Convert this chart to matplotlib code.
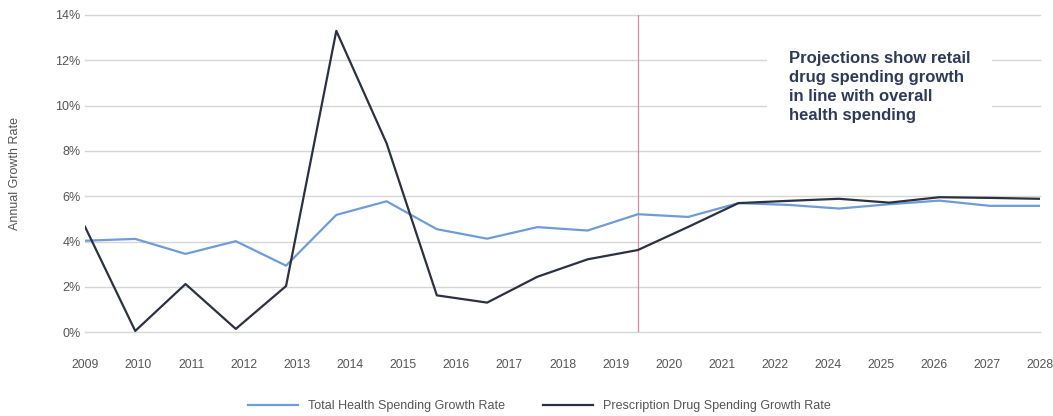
import numpy as np
import matplotlib
matplotlib.use("Agg")
import matplotlib.pyplot as plt
from matplotlib.ticker import FuncFormatter

plt.rcParams['font.family'] = ['Liberation Sans', 'DejaVu Sans']

# Data (20 annual points, 2009-2028)
years = list(range(2009, 2029))
total_health = [4.04, 4.12, 3.46, 4.02, 2.94, 5.18, 5.78, 4.55, 4.13, 4.64,
                4.49, 5.21, 5.09, 5.70, 5.62, 5.46, 5.65, 5.81, 5.58, 5.58]
prescription = [4.66, 0.06, 2.13, 0.15, 2.04, 13.30, 8.34, 1.63, 1.31, 2.45,
                3.22, 3.63, 4.65, 5.70, 5.80, 5.89, 5.72, 5.96, 5.93, 5.89]
tick_labels = ['2009', '2010', '2011', '2012', '2013', '2014', '2015', '2016',
               '2017', '2018', '2019', '2020', '2021', '2022', '2024', '2025',
               '2026', '2027', '2028']
projection_start_index = 11
annotation = "Projections show retail\ndrug spending growth\nin line with overall\nhealth spending"

fig = plt.figure(figsize=(10.53, 4.16), dpi=100)
ax = fig.add_axes([0.0807, 0.2012, 0.9070, 0.7628])

x = np.arange(len(years))
ax.plot(x, total_health, color='#6f9bd6', lw=1.6, label='Total Health Spending Growth Rate', zorder=3)
ax.plot(x, prescription, color='#2b3140', lw=1.6, label='Prescription Drug Spending Growth Rate', zorder=4)
ax.axvline(projection_start_index, color='#d98aa6', lw=0.9, zorder=2)

ax.set_xlim(0, len(years) - 1)
ax.set_ylim(0, 14)
ax.set_yticks(np.arange(0, 15, 2))
ax.yaxis.set_major_formatter(FuncFormatter(lambda v, p: f"{int(v)}%"))
ax.set_xticks(np.linspace(0, len(years) - 1, len(tick_labels)))
ax.set_xticklabels(tick_labels)

ax.grid(axis='y', color='#d6d6d6', lw=1.0, zorder=0)
ax.grid(axis='x', visible=False)
for gl in ax.get_ygridlines():
    gl.set_clip_on(False)
for s in ax.spines.values():
    s.set_visible(False)
ax.tick_params(axis='both', length=0, colors='#555555')
ax.tick_params(axis='x', pad=19, labelsize=8.8)
ax.tick_params(axis='y', pad=3, labelsize=9)

fig.text(0.014, 0.582, 'Annual Growth Rate', rotation=90, va='center', ha='center',
         fontsize=9, color='#555555')

ax.text(0.737, 0.888, annotation, transform=ax.transAxes, ha='left', va='top',
        fontsize=12, fontweight='bold', color='#2e3a59', linespacing=1.34,
        bbox=dict(boxstyle='square,pad=1.3', facecolor='white', edgecolor='none'),
        zorder=5)

leg = fig.legend(loc='lower center', bbox_to_anchor=(0.512, -0.018), ncol=2, frameon=False,
                 fontsize=9, handlelength=4, columnspacing=3, handletextpad=0.8)
for t in leg.get_texts():
    t.set_color('#555555')

fig.savefig('out.png', dpi=100)
